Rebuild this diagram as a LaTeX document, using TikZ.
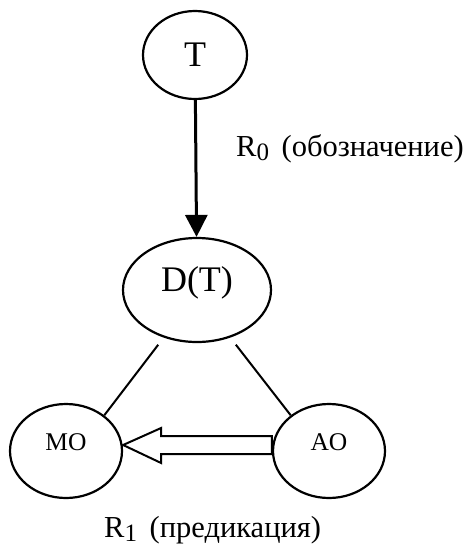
\documentclass[tikz,border=0pt]{standalone}
\usepackage{fontspec}
\setmainfont{Liberation Serif}
\usetikzlibrary{calc,shapes.geometric,arrows.meta}

\tikzset{
  oval/.style={ellipse, draw, line width=2.2pt, inner sep=0pt},
  big/.style={font=\fontsize{36}{40}\selectfont},
  small/.style={font=\fontsize{25.5}{28}\selectfont},
  rel/.style={font=\fontsize{30.5}{33}\selectfont, inner sep=0pt},
}
\newcommand{\lowidx}[1]{\raisebox{-4pt}{\fontsize{25}{25}\selectfont #1}\hspace{5pt}}

\begin{document}
\begin{tikzpicture}[x=1pt,y=-1pt]
\useasboundingbox (0,0) rectangle (469,555);

\node[oval,big,minimum width=104pt,minimum height=88pt] (T) at (195,55) {T};
\node[oval,big,minimum width=148pt,minimum height=104pt,text depth=22pt] (DT) at (197,290) {D(T)};
\node[oval,small,minimum width=112pt,minimum height=94pt,text depth=18pt] (MO) at (66,451) {MO\hspace{8pt}};
\node[oval,small,minimum width=112pt,minimum height=94pt,text depth=18pt] (AO) at (329,451) {AO\hspace{14pt}};

% denotation
\draw[line width=3pt,-{Triangle[length=22pt,width=22pt]}] (T) -- (DT);
\node[rel,anchor=base west] (r0) at (236,156) {R\lowidx{0} (обозначение)};

% sides of the triangle
\draw[line width=2pt,shorten <=9pt] (DT.235) -- (MO.43);
\draw[line width=2pt,shorten <=9pt] (DT.305) -- (AO.137);

% predication, hollow arrow
\draw[line width=2pt,fill=white] ($(AO.west)+(0,-15)$) -- ($(MO.east)+(38,-15)$)
    -- ($(MO.east)+(38,-23)$) -- ($(MO.east)+(0,-6)$) -- ($(MO.east)+(38,12)$)
    -- ($(MO.east)+(38,3)$) -- ($(AO.west)+(0,3)$) -- cycle;
\node[rel,anchor=base west] (r1) at (104,537) {R\lowidx{1} (предикация)};
\end{tikzpicture}
\end{document}
